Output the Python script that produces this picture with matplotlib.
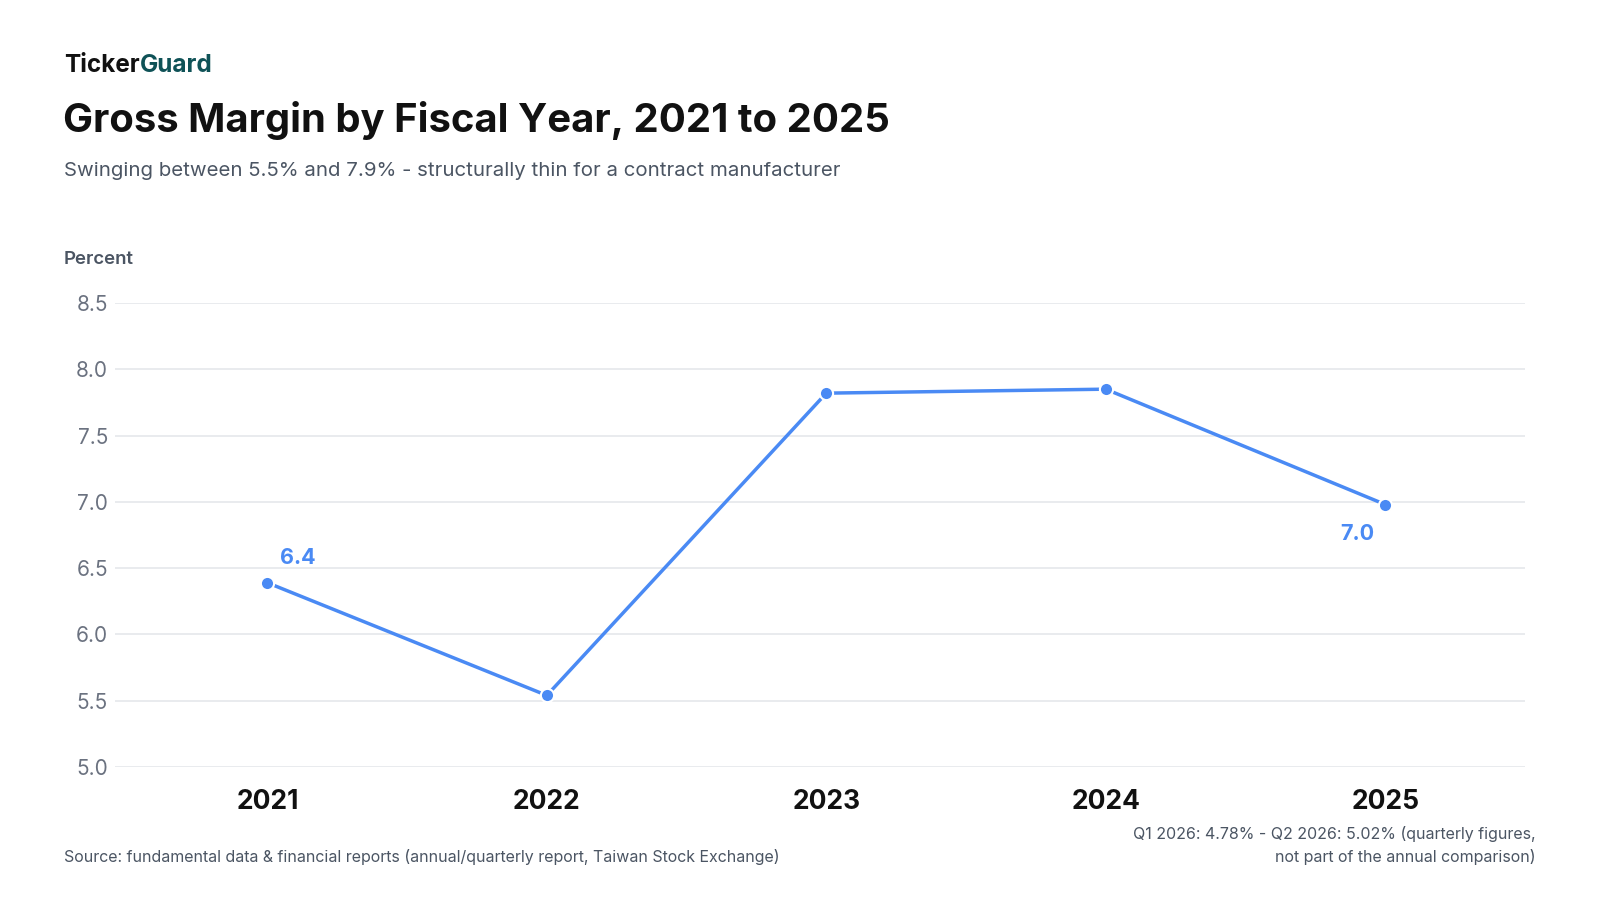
import matplotlib
matplotlib.use("Agg")
import matplotlib.pyplot as plt

plt.rcParams["font.family"] = ["Inter", "DejaVu Sans"]

# Data
years = [2021, 2022, 2023, 2024, 2025]
gross_margin = [6.39, 5.54, 7.82, 7.85, 6.98]
y_ticks = [5.0, 5.5, 6.0, 6.5, 7.0, 7.5, 8.0, 8.5]

BLUE = "#4a8af4"
GRID = "#e5e7eb"
W, H = 1600, 900

fig = plt.figure(figsize=(16, 9), dpi=100)
ax = fig.add_axes([115 / W, (H - 767) / H, (1525 - 115) / W, (767 - 303) / H])

ax.plot(years, gross_margin, color=BLUE, lw=2.5, marker="o", ms=9.5,
        markerfacecolor=BLUE, markeredgecolor="white", markeredgewidth=1.5,
        zorder=3, clip_on=False)

ax.set_xlim(2020.455, 2025.5)
ax.set_ylim(5.0, 8.5)
ax.set_yticks(y_ticks)
ax.set_yticklabels([f"{v:.1f}" for v in y_ticks])
ax.set_xticks(years)
ax.set_xticklabels([str(y) for y in years])

for s in ax.spines.values():
    s.set_visible(False)
ax.grid(axis="y", color=GRID, lw=1.2)
ax.set_axisbelow(True)
ax.tick_params(axis="y", length=0, pad=5, labelsize=15, labelcolor="#6b7280")
ax.tick_params(axis="x", length=0, pad=16, labelsize=19, labelcolor="#111111")
for lab in ax.get_xticklabels():
    lab.set_fontweight("bold")

# value labels on first and last points
ax.annotate(f"{gross_margin[0]:.1f}", (years[0], gross_margin[0]),
            xytext=(22, 18), textcoords="offset points", ha="center", va="center",
            fontsize=15.5, fontweight="bold", color=BLUE)
ax.annotate(f"{gross_margin[-1]:.1f}", (years[-1], gross_margin[-1]),
            xytext=(-20, -21.5), textcoords="offset points", ha="center", va="center",
            fontsize=15.5, fontweight="bold", color=BLUE)

# header
brand = fig.text(64 / W, 1 - 71.5 / H, "Ticker", fontsize=17.5, fontweight="bold",
                 color="#111111", va="baseline", ha="left")
ax.annotate("Guard", xy=(1, 0), xycoords=brand, ha="left", va="bottom",
            fontsize=17.5, fontweight="bold", color="#0f5257",
            annotation_clip=False)
fig.text(63 / W, 1 - 131.5 / H, "Gross Margin by Fiscal Year, 2021 to 2025",
         fontsize=28.8, fontweight="bold", color="#111111", va="baseline", ha="left")
fig.text(64 / W, 1 - 176 / H,
         "Swinging between 5.5% and 7.9% - structurally thin for a contract manufacturer",
         fontsize=14.7, color="#4b5563", va="baseline", ha="left")
fig.text(64 / W, 1 - 259 / H, "Percent", fontsize=13.4, fontweight="semibold",
         color="#4b5563", va="center", ha="left")

# footer
fig.text(64 / W, 1 - 857 / H,
         "Source: fundamental data & financial reports (annual/quarterly report, Taiwan Stock Exchange)",
         fontsize=11.5, color="#4b5563", va="center", ha="left")
fig.text(1536 / W, 1 - 834 / H,
         "Q1 2026: 4.78% - Q2 2026: 5.02% (quarterly figures,",
         fontsize=11.5, color="#4b5563", va="center", ha="right")
fig.text(1536 / W, 1 - 857 / H,
         "not part of the annual comparison)",
         fontsize=11.5, color="#4b5563", va="center", ha="right")

fig.savefig("out.png", dpi=100, facecolor="white")
